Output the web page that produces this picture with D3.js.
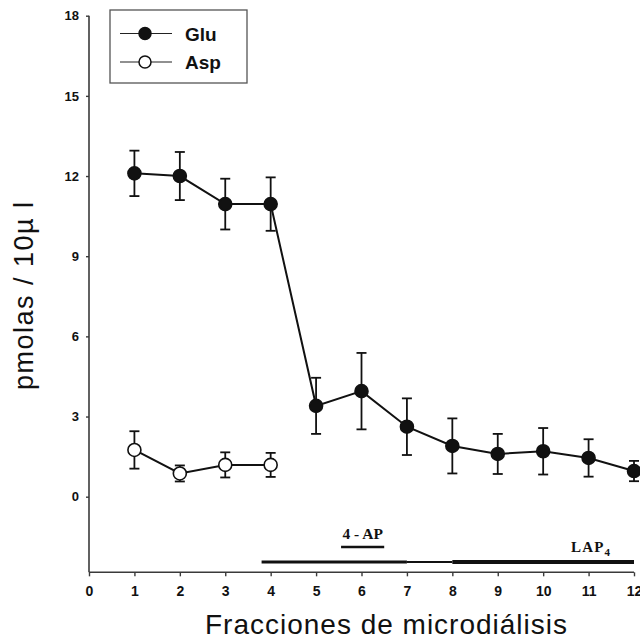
<!DOCTYPE html>
<html>
<head>
<meta charset="utf-8">
<script src="https://cdn.jsdelivr.net/npm/d3@7"></script>
<style>
  html, body { margin: 0; padding: 0; background: #fff; }
  svg { display: block; }
</style>
</head>
<body>
<svg id="chart" width="640" height="641"></svg>
<script>
// Microdialysis fractions and amino-acid content (pmol / 10 µl)
const fractions = [1, 2, 3, 4, 5, 6, 7, 8, 9, 10, 11, 12];
const gluMean = [12.1, 12.0, 10.95, 10.95, 3.4, 3.95, 2.62, 1.9, 1.6, 1.7, 1.45, 0.96];
const gluErr  = [0.85, 0.9, 0.95, 1.0, 1.05, 1.43, 1.06, 1.03, 0.75, 0.87, 0.7, 0.38];
const aspFractions = [1, 2, 3, 4];
const aspMean = [1.75, 0.87, 1.19, 1.19];
const aspErr  = [0.7, 0.3, 0.47, 0.45];

// Axis ticks
const xTicks = [0, 1, 2, 3, 4, 5, 6, 7, 8, 9, 10, 11, 12];
const yTicks = [0, 3, 6, 9, 12, 15, 18];

// Drug application periods (in fraction units)
const apPeriod = [5.55, 6.5];
const lapSegments = [[3.8, 7, 3], [7, 8, 2], [8, 12, 4]];

const svg = d3.select("#chart");
const sans = "'Liberation Sans', Arial, Helvetica, sans-serif";
const serif = "'Liberation Serif', 'Times New Roman', serif";

const x = d3.scaleLinear().domain([0, 12]).range([89, 634]);
const y = d3.scaleLinear().domain([0, 18]).range([496.7, 15.7]);
const yBase = -2.83;          // lowest value shown on the y axis (x axis sits here)
const axisColor = "#3a3a3a";

// ---- Y axis
const yAxis = svg.append("g")
  .attr("transform", `translate(${x(0)},0)`)
  .call(d3.axisLeft(y).tickValues(yTicks).tickSize(3).tickPadding(7));
yAxis.select(".domain").remove();
yAxis.append("line")
  .attr("x1", 0).attr("x2", 0)
  .attr("y1", y(18)).attr("y2", y(yBase))
  .attr("stroke", axisColor).attr("stroke-width", 1.6);
yAxis.selectAll(".tick line").attr("stroke", axisColor).attr("stroke-width", 1.4);
yAxis.selectAll(".tick text")
  .attr("font-family", sans).attr("font-weight", "bold")
  .attr("font-size", 13).attr("fill", "#111");

// ---- X axis
const xAxis = svg.append("g")
  .attr("transform", `translate(0,${y(yBase)})`)
  .call(d3.axisBottom(x).tickValues(xTicks).tickSize(4).tickPadding(10));
xAxis.select(".domain").attr("stroke", axisColor).attr("stroke-width", 1.6)
  .attr("d", `M${x(0)},0H${x(12)}`);
xAxis.selectAll(".tick line").attr("stroke", axisColor).attr("stroke-width", 1.4);
xAxis.selectAll(".tick text")
  .attr("font-family", sans).attr("font-weight", "bold")
  .attr("font-size", 14).attr("fill", "#111");

// ---- Axis titles
svg.append("text")
  .attr("x", 386).attr("y", 634)
  .attr("text-anchor", "middle")
  .attr("font-family", sans).attr("font-size", 28)
  .attr("textLength", 362).attr("lengthAdjust", "spacing")
  .attr("fill", "#111")
  .text("Fracciones de microdiálisis");

svg.append("text")
  .attr("transform", "translate(33,296) rotate(-90)")
  .attr("text-anchor", "middle")
  .attr("font-family", sans).attr("font-size", 27)
  .attr("textLength", 188).attr("lengthAdjust", "spacing")
  .attr("fill", "#111")
  .text("pmolas / 10µ l");

// ---- Drug application bars
const treat = svg.append("g");
treat.append("line")
  .attr("x1", x(apPeriod[0])).attr("x2", x(apPeriod[1]))
  .attr("y1", 547).attr("y2", 547)
  .attr("stroke", "#111").attr("stroke-width", 2.4);
treat.append("text")
  .attr("x", (x(apPeriod[0]) + x(apPeriod[1])) / 2).attr("y", 538.5)
  .attr("text-anchor", "middle")
  .attr("font-family", serif).attr("font-weight", "bold").attr("font-size", 15.5)
  .attr("fill", "#111")
  .text("4 - AP");
treat.selectAll("line.lap")
  .data(lapSegments)
  .join("line")
  .attr("class", "lap")
  .attr("x1", d => x(d[0])).attr("x2", d => x(d[1]))
  .attr("y1", 562).attr("y2", 562)
  .attr("stroke", "#111")
  .attr("stroke-width", d => d[2]);
const lapLabel = treat.append("text")
  .attr("x", 571).attr("y", 552)
  .attr("font-family", serif).attr("font-weight", "bold").attr("font-size", 15)
  .attr("letter-spacing", 1.2)
  .attr("fill", "#111");
lapLabel.append("tspan").text("LAP");
lapLabel.append("tspan").attr("dy", 4).attr("font-size", 11).text("4");

// ---- Series
function drawSeries(xs, means, errs, fill) {
  const g = svg.append("g");
  const pts = xs.map((f, i) => ({ f, m: means[i], e: errs[i] }));
  const line = d3.line().x(d => x(d.f)).y(d => y(d.m));
  g.append("path")
    .datum(pts)
    .attr("d", line)
    .attr("fill", "none").attr("stroke", "#111").attr("stroke-width", 2);
  const eb = g.selectAll("g.err").data(pts).join("g").attr("class", "err");
  eb.append("line")
    .attr("x1", d => x(d.f)).attr("x2", d => x(d.f))
    .attr("y1", d => y(d.m + d.e)).attr("y2", d => y(d.m - d.e))
    .attr("stroke", "#111").attr("stroke-width", 1.8);
  [1, -1].forEach(s => {
    eb.append("line")
      .attr("x1", d => x(d.f) - 5).attr("x2", d => x(d.f) + 5)
      .attr("y1", d => y(d.m + s * d.e)).attr("y2", d => y(d.m + s * d.e))
      .attr("stroke", "#111").attr("stroke-width", 1.8);
  });
  g.selectAll("circle").data(pts).join("circle")
    .attr("cx", d => x(d.f)).attr("cy", d => y(d.m))
    .attr("r", 6.5)
    .attr("fill", fill).attr("stroke", "#111").attr("stroke-width", 1.6);
}
drawSeries(aspFractions, aspMean, aspErr, "#fff");
drawSeries(fractions, gluMean, gluErr, "#111");

// ---- Legend
const legend = svg.append("g");
legend.append("rect")
  .attr("x", 110).attr("y", 10).attr("width", 137).attr("height", 73)
  .attr("fill", "#fff").attr("stroke", "#555").attr("stroke-width", 1.3);
const legendItems = [
  { name: "Glu", fill: "#111", cy: 33.5 },
  { name: "Asp", fill: "#fff", cy: 62 }
];
legendItems.forEach(it => {
  legend.append("line")
    .attr("x1", 120).attr("x2", 172).attr("y1", it.cy).attr("y2", it.cy)
    .attr("stroke", "#222").attr("stroke-width", 1.1);
  legend.append("circle")
    .attr("cx", 145).attr("cy", it.cy).attr("r", 6)
    .attr("fill", it.fill).attr("stroke", "#111").attr("stroke-width", 1.5);
  legend.append("text")
    .attr("x", 185).attr("y", it.cy + 7)
    .attr("font-family", sans).attr("font-weight", "bold").attr("font-size", 19)
    .attr("fill", "#111")
    .text(it.name);
});
</script>
</body>
</html>
